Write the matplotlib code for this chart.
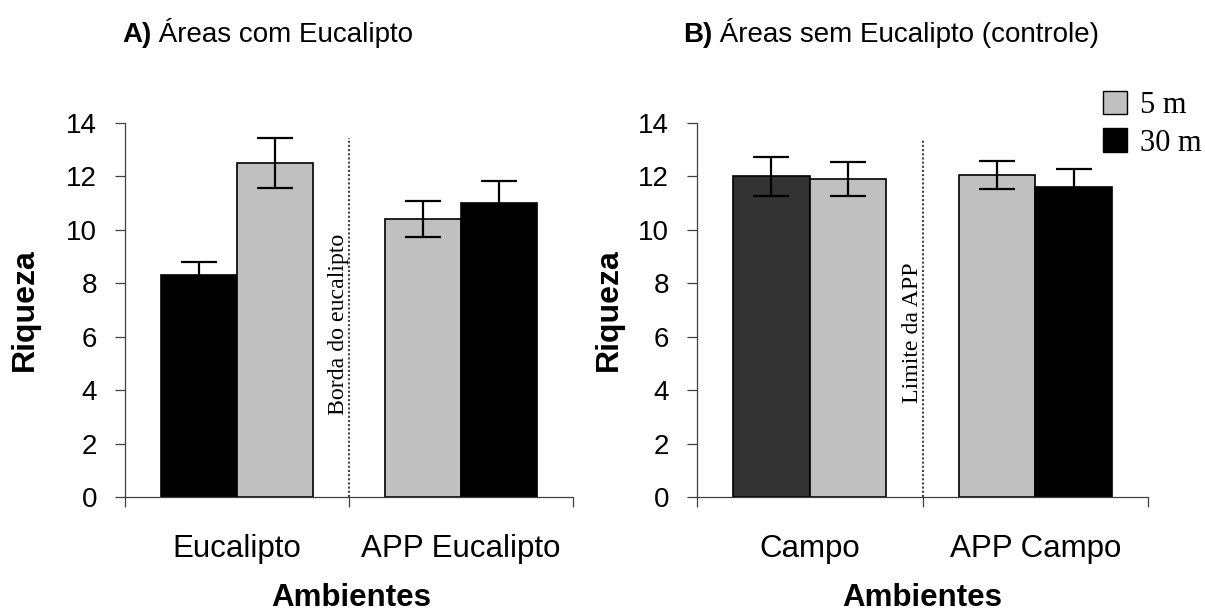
import matplotlib
matplotlib.use("Agg")
import matplotlib.pyplot as plt
from matplotlib.patches import Patch
import numpy as np

plt.rcParams["font.family"] = ["Liberation Sans", "DejaVu Sans"]

# ---- data -------------------------------------------------------------
yticks = [0, 2, 4, 6, 8, 10, 12, 14]

# Panel A: areas with eucalyptus
cats_a = ["Eucalipto", "APP Eucalipto"]
left_a = [8.3, 10.4]
left_err_a = [0.5, 0.67]
left_col_a = ["#000000", "#c0c0c0"]
right_a = [12.5, 11.0]
right_err_a = [0.95, 0.83]
right_col_a = ["#c0c0c0", "#000000"]

# Panel B: areas without eucalyptus (control)
cats_b = ["Campo", "APP Campo"]
left_b = [12.0, 12.05]
left_err_b = [0.72, 0.52]
left_col_b = ["#333333", "#c0c0c0"]
right_b = [11.9, 11.6]
right_err_b = [0.63, 0.68]
right_col_b = ["#c0c0c0", "#000000"]

legend_labels = ["5 m", "30 m"]
legend_colors = ["#c0c0c0", "#000000"]

# ---- figure -----------------------------------------------------------
W, H = 1205, 614
fig = plt.figure(figsize=(W / 100, H / 100), dpi=100)

SPINE = "#404040"
SERIF = ["Liberation Serif", "DejaVu Serif"]


def px_box(x0, x1, ytop, ybot):
    return [x0 / W, 1 - ybot / H, (x1 - x0) / W, (ybot - ytop) / H]


def draw_panel(ax, cats, left, lerr, lcol, right, rerr, rcol,
               sep_text, sep_top, sep_text_y, ylabel_x):
    x = np.arange(len(cats)) + 0.5
    bw = 0.34
    ekw = dict(elinewidth=1.6, capthick=1.6, ecolor="black")
    ax.bar(x - bw / 2, left, width=bw, color=lcol, edgecolor="black",
           linewidth=1.2, yerr=lerr, capsize=13, error_kw=ekw)
    ax.bar(x + bw / 2, right, width=bw, color=rcol, edgecolor="black",
           linewidth=1.2, yerr=rerr, capsize=13, error_kw=ekw)

    ax.set_xlim(0, len(cats))
    ax.set_ylim(0, 14)
    for s in ("top", "right"):
        ax.spines[s].set_visible(False)
    for s in ("left", "bottom"):
        ax.spines[s].set_color(SPINE)
        ax.spines[s].set_linewidth(0.9)

    ax.set_yticks(yticks)
    ax.tick_params(axis="y", direction="out", length=7, width=0.9,
                   color=SPINE, labelsize=20, pad=13)
    ax.set_xticks(np.arange(len(cats) + 1))
    ax.set_xticklabels([])
    ax.tick_params(axis="x", which="major", direction="out", length=7.5,
                   width=0.9, color=SPINE)
    ax.set_xticks(x, minor=True)
    ax.set_xticklabels(cats, minor=True)
    ax.tick_params(axis="x", which="minor", length=0, labelsize=22.5, pad=27)

    # separator between environments
    ax.plot([1, 1], [0, sep_top], color="#444444", linestyle=(0, (1, 1)),
            linewidth=1.5, zorder=0.5)
    ax.text(1.0, sep_text_y, sep_text, rotation=90, ha="right", va="bottom",
            fontsize=17.2, family=SERIF)

    ax.set_ylabel("Riqueza", fontsize=23, fontweight="bold")
    ax.yaxis.set_label_coords(ylabel_x, 0.5)


ax_a = fig.add_axes(px_box(125, 573, 123, 497))
draw_panel(ax_a, cats_a, left_a, left_err_a, left_col_a,
           right_a, right_err_a, right_col_a,
           "Borda do eucalipto", 13.45, 3.07, -0.19)

ax_b = fig.add_axes(px_box(697, 1148, 123, 497))
draw_panel(ax_b, cats_b, left_b, left_err_b, left_col_b,
           right_b, right_err_b, right_col_b,
           "Limite da APP", 13.35, 3.52, -0.163)

# axis titles
fig.text(351 / W, 1 - 606 / H, "Ambientes", ha="center", va="baseline",
         fontsize=22.5, fontweight="bold")
fig.text(922 / W, 1 - 606 / H, "Ambientes", ha="center", va="baseline",
         fontsize=22.5, fontweight="bold")

# panel titles: bold tag followed by regular text
for x_px, tag, rest in [(122, "A)", "Áreas com Eucalipto"),
                        (683, "B)", "Áreas sem Eucalipto (controle)")]:
    t = fig.text(x_px / W, 1 - 42 / H, tag, ha="left", va="baseline",
                 fontsize=20, fontweight="bold")
    fig.canvas.draw()
    bb = t.get_window_extent()
    fig.text(bb.x1 / W, 1 - 42 / H, " " + rest, ha="left", va="baseline",
             fontsize=20)

handles = [Patch(facecolor=c, edgecolor="black", linewidth=1.0)
           for c in legend_colors]
fig.legend(handles, legend_labels, loc="upper left",
           bbox_to_anchor=(1103 / W, 1 - 91 / H), frameon=False,
           prop={"family": SERIF, "size": 22}, handlelength=0.8,
           handleheight=0.8, handletextpad=0.4, labelspacing=0.26,
           borderpad=0, borderaxespad=0)

fig.savefig("out.png", dpi=100)
